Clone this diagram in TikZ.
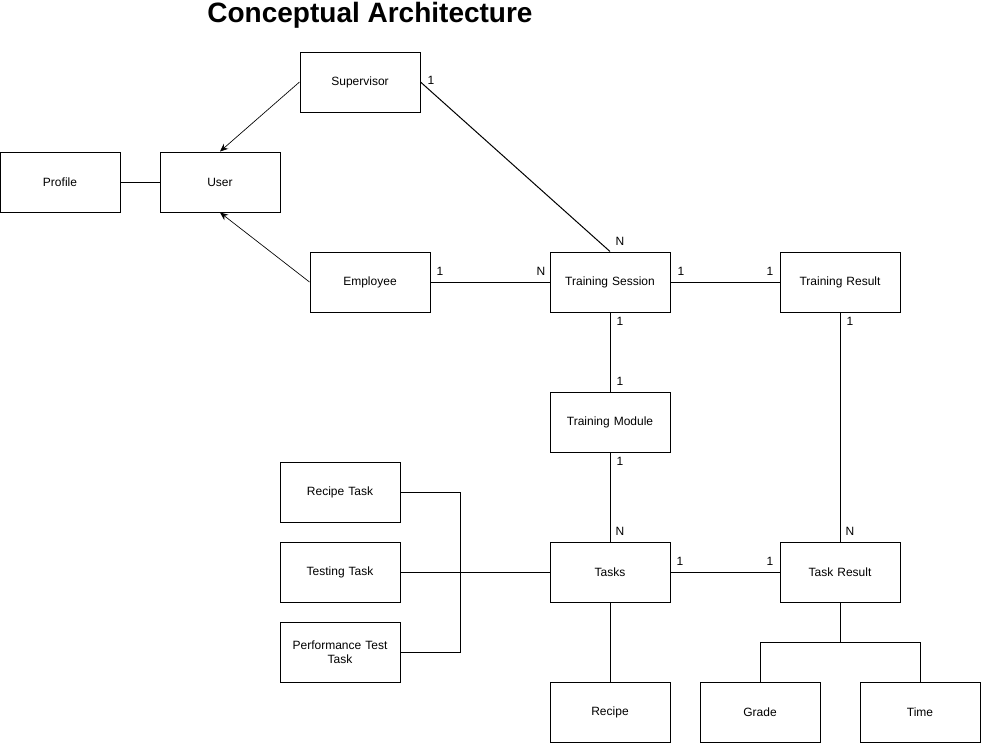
\documentclass[tikz,border=0pt]{standalone}
\usepackage{fontspec}
\setmainfont{Liberation Sans}
\usetikzlibrary{arrows.meta}
\tikzset{
  ent/.style   ={draw, rectangle, line width=0.75pt, align=center, fill=white, minimum width=90pt, minimum height=45pt, inner sep=1pt, text width=80pt, font=\fontsize{9}{10.5}\selectfont},
  card/.style  ={inner sep=0pt, font=\fontsize{9}{10}\selectfont},
  link/.style  ={line width=0.75pt},
  isa/.style   ={-{Stealth[length=6pt,width=5pt]}, line width=0.5pt},
}
\begin{document}
\begin{tikzpicture}[x=0.75pt, y=-0.75pt]
  \useasboundingbox (0,0) rectangle (981,743);

  \node[font=\bfseries\fontsize{21}{23}\selectfont] (title) at (370,15) {Conceptual Architecture};

  % entities
  \node[ent] (sup)   at (360,82)  {Supervisor};
  \node[ent] (prof)  at (60,182)  {Profile};
  \node[ent] (user)  at (220,182) {User};
  \node[ent] (emp)   at (370,282) {Employee};
  \node[ent] (sess)  at (610,282) {Training Session};
  \node[ent] (tres)  at (840,282) {Training Result};
  \node[ent] (tmod)  at (610,422) {Training Module};
  \node[ent] (rtask) at (340,492) {Recipe Task};
  \node[ent] (ttask) at (340,572) {Testing Task};
  \node[ent] (ptask) at (340,652) {Performance Test\\Task};
  \node[ent] (tasks) at (610,572) {Tasks};
  \node[ent] (kres)  at (840,572) {Task Result};
  \node[ent] (rec)   at (610,712) {Recipe};
  \node[ent] (grade) at (760,712) {Grade};
  \node[ent] (time)  at (920,712) {Time};

  % inheritance
  \draw[isa] (sup.west) -- (user.north);
  \draw[isa] (emp.west) -- (user.south);

  % relations
  \draw[link] (prof) -- (user);
  \draw[link] (sup.east) -- (sess.north);
  \draw[link] (emp) -- (sess);
  \draw[link] (sess) -- (tres);
  \draw[link] (sess) -- (tmod);
  \draw[link] (tmod) -- (tasks);
  \draw[link] (tres) -- (kres);
  \draw[link] (tasks) -- (kres);
  \draw[link] (tasks) -- (rec);
  \draw[link] (ttask) -- (tasks);
  \draw[link] (rtask.east) -- ++(60,0) |- (ptask.east);
  \draw[link] (kres.south) -- ++(0,40) -| (grade.north);
  \draw[link] (kres.south) ++(0,40) -| (time.north);

  % cardinalities
  \node[card] (c1)  at (431,80)  {1};
  \node[card] (c2)  at (620,241) {N};
  \node[card] (c3)  at (440,271) {1};
  \node[card] (c4)  at (541,271) {N};
  \node[card] (c5)  at (681,271) {1};
  \node[card] (c6)  at (770,271) {1};
  \node[card] (c7)  at (620,321) {1};
  \node[card] (c8)  at (620,381) {1};
  \node[card] (c9)  at (620,461) {1};
  \node[card] (c10) at (620,531) {N};
  \node[card] (c11) at (850,321) {1};
  \node[card] (c12) at (850,531) {N};
  \node[card] (c13) at (680,561) {1};
  \node[card] (c14) at (770,561) {1};
\end{tikzpicture}
\end{document}
